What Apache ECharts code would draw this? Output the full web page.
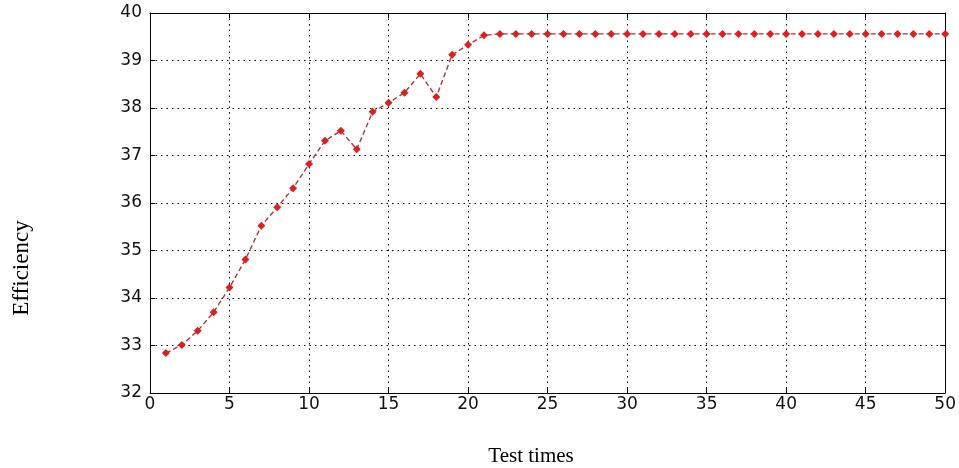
<!DOCTYPE html>
<html>
<head>
<meta charset="utf-8">
<script src="https://cdn.jsdelivr.net/npm/echarts@6/dist/echarts.min.js"></script>
<style>html,body{margin:0;padding:0;background:#fff;}#c{width:959px;height:468px;}</style>
</head>
<body>
<div id="c"></div>
<script>
var testTimes = [1,2,3,4,5,6,7,8,9,10,11,12,13,14,15,16,17,18,19,20,21,22,23,24,25,26,27,28,29,30,31,32,33,34,35,36,37,38,39,40,41,42,43,44,45,46,47,48,49,50];
var efficiency = [32.84,33.01,33.31,33.70,34.22,34.81,35.52,35.91,36.31,36.82,37.31,37.52,37.13,37.92,38.11,38.32,38.72,38.23,39.12,39.33,39.53,39.56,39.56,39.56,39.56,39.56,39.56,39.56,39.56,39.56,39.56,39.56,39.56,39.56,39.56,39.56,39.56,39.56,39.56,39.56,39.56,39.56,39.56,39.56,39.56,39.56,39.56,39.56,39.56,39.56];
var xTitle = 'Test times';
var yTitle = 'Efficiency';

var chart = echarts.init(document.getElementById('c'), null, {renderer:'canvas'});
var pts = testTimes.map(function(x,i){return [x, efficiency[i]];});
var tickFont = {fontFamily:'DejaVu Sans', fontSize:17, color:'#111'};
var dotted = {color:'#000', width:1, type:[1.5,4]};
chart.setOption({
  animation:false,
  grid:{left:150, right:8, top:13, bottom:75, containLabel:false},
  xAxis:[{
    type:'value', min:0, max:50, interval:5, position:'bottom',
    axisLine:{show:true, onZero:false, lineStyle:{color:'#000', width:1}},
    axisTick:{show:true, inside:true, length:5, lineStyle:{color:'#000'}},
    axisLabel:Object.assign({margin:3}, tickFont),
    splitLine:{show:true, lineStyle:dotted}
  },{
    type:'value', min:0, max:50, interval:5, position:'top',
    axisLine:{show:true, onZero:false, lineStyle:{color:'#000', width:1}},
    axisTick:{show:true, inside:true, length:5, lineStyle:{color:'#000'}},
    axisLabel:{show:false}, splitLine:{show:false}
  }],
  yAxis:[{
    type:'value', min:32, max:40, interval:1, position:'left',
    axisLine:{show:true, onZero:false, lineStyle:{color:'#000', width:1}},
    axisTick:{show:true, inside:true, length:5, lineStyle:{color:'#000'}},
    axisLabel:Object.assign({margin:8}, tickFont),
    splitLine:{show:true, lineStyle:dotted}
  },{
    type:'value', min:32, max:40, interval:1, position:'right',
    axisLine:{show:true, onZero:false, lineStyle:{color:'#000', width:1}},
    axisTick:{show:true, inside:true, length:5, lineStyle:{color:'#000'}},
    axisLabel:{show:false}, splitLine:{show:false}
  }],
  series:[{
    type:'line', data:pts, xAxisIndex:0, yAxisIndex:0,
    symbol:'diamond', symbolSize:8,
    lineStyle:{color:'#a83a3a', width:1.4, type:[5,3]},
    itemStyle:{color:'#dd1f1f'}
  }],
  graphic:[
    {type:'text', x:531, y:456, style:{text:xTitle, font:'21px "Liberation Serif", "Times New Roman", serif', fill:'#000', align:'center', verticalAlign:'middle'}},
    {type:'text', x:22, y:268, rotation:Math.PI/2, style:{text:yTitle, font:'23px "Liberation Serif", "Times New Roman", serif', fill:'#000', align:'center', verticalAlign:'middle'}}
  ]
});
</script>
</body>
</html>
